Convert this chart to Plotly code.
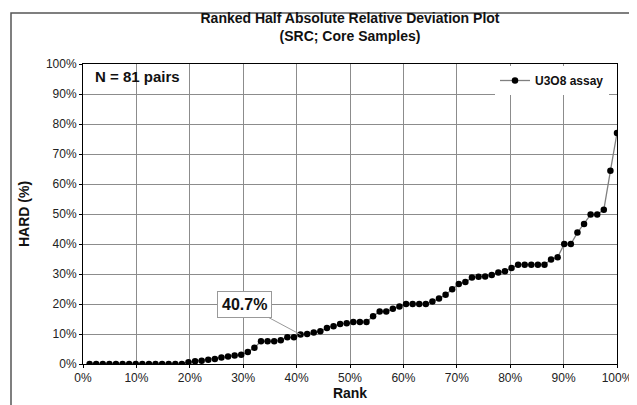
import plotly.graph_objects as go

# ranked HARD values (%), one per pair
rank_no = list(range(1, 82))
hard = [0, 0, 0, 0, 0, 0, 0, 0, 0, 0, 0, 0, 0, 0, 0,
        0.6, 0.9, 1.1, 1.4, 1.7, 2.2, 2.5, 2.8, 3.1, 4.0,
        5.4, 7.6, 7.6, 7.6, 7.9, 8.9, 8.9, 9.8, 10.0, 10.5,
        10.9, 12.0, 12.6, 13.3, 13.6, 14.0, 14.0, 14.0, 15.9, 17.5,
        17.5, 18.4, 19.2, 20.0, 20.0, 20.0, 20.0, 20.8, 21.8, 23.1,
        24.9, 26.7, 27.3, 28.8, 29.1, 29.2, 29.7, 30.5, 30.9, 32.0,
        33.1, 33.1, 33.1, 33.1, 33.1, 34.8, 35.6, 40.0, 40.0, 43.8,
        46.7, 49.8, 49.8, 51.4, 64.4, 77.0]
n_pairs = len(hard)
rank_pct = [100.0 * i / n_pairs for i in rank_no]

callout_idx = 32  # the point at 40.7% rank

FONT = "Liberation Sans, Arial, sans-serif"

fig = go.Figure()
fig.add_trace(go.Scatter(
    x=rank_pct,
    y=hard,
    mode="lines+markers",
    name="<b>U3O8 assay</b>",
    line=dict(color="#808080", width=1.3),
    marker=dict(color="black", size=6.5),
))

axis_common = dict(
    showline=True,
    linecolor="black",
    linewidth=1,
    mirror=True,
    showgrid=True,
    gridcolor="#8c8c8c",
    gridwidth=1,
    ticks="outside",
    ticklen=3,
    tickcolor="black",
    ticksuffix="%",
    tickfont=dict(family=FONT, size=12, color="#222"),
    zeroline=False,
)

fig.update_layout(
    width=637,
    height=405,
    margin=dict(l=75, r=28, t=56, b=49),
    paper_bgcolor="white",
    plot_bgcolor="white",
    font=dict(family=FONT, color="#111"),
    title=dict(
        text="<b>Ranked Half Absolute Relative Deviation Plot<br>(SRC; Core Samples)</b>",
        x=0.5, xref="paper", xanchor="center",
        y=1 - 15 / 405, yanchor="top",
        font=dict(family=FONT, size=14, color="#111"),
    ),
    xaxis=dict(
        range=[0, 100], dtick=10,
        title=dict(text="<b>Rank</b>", font=dict(family=FONT, size=14), standoff=1),
        **axis_common,
    ),
    yaxis=dict(
        range=[0, 100], dtick=10,
        title=dict(text="<b>HARD (%)</b>", font=dict(family=FONT, size=14), standoff=12),
        **axis_common,
    ),
    showlegend=True,
    legend=dict(
        x=0.985, xanchor="right", y=0.945, yanchor="middle",
        bgcolor="white",
        font=dict(family=FONT, size=12, color="#111"),
        itemwidth=30,
    ),
)

fig.add_annotation(
    text="<b>N = 81 pairs</b>",
    xref="paper", yref="paper",
    x=0.018, y=0.96, xanchor="left", yanchor="middle",
    showarrow=False,
    font=dict(family=FONT, size=15, color="#111"),
)

fig.add_annotation(
    text="<b>40.7%</b>",
    x=rank_pct[callout_idx], y=hard[callout_idx],
    ax=-56, ay=-30,
    showarrow=True, arrowhead=0, arrowwidth=1, arrowcolor="#999",
    bgcolor="white", bordercolor="#999", borderwidth=1, borderpad=4,
    font=dict(family=FONT, size=16, color="#111"),
)

# outer chart-area frame
fig.add_shape(
    type="rect", xref="paper", yref="paper",
    x0=(3 - 75) / 534, x1=(633 - 75) / 534,
    y0=(356 - 401) / 300, y1=(356 - 5) / 300,
    line=dict(color="#555", width=1.5),
)

fig.write_html("out.html")
